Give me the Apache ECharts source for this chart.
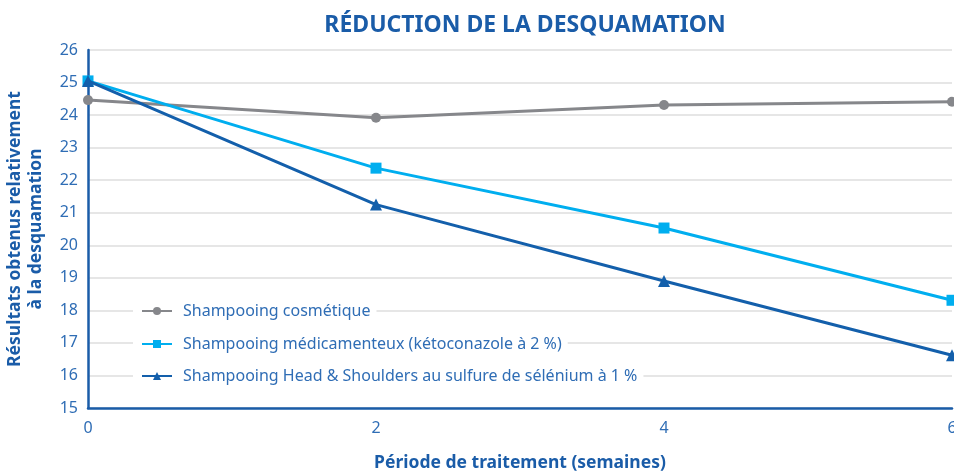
<!DOCTYPE html>
<html>
<head>
<meta charset="utf-8">
<script src="https://cdn.jsdelivr.net/npm/echarts@6/dist/echarts.min.js"></script>
<style>
html,body{margin:0;padding:0;background:#fff;}
#main{width:954px;height:471px;}
</style>
</head>
<body>
<div id="main"></div>
<script>
// semaines
var weeks = [0, 2, 4, 6];
var cosmetique = [24.46, 23.92, 24.31, 24.41];
var ketoconazole = [25.05, 22.37, 20.53, 18.31];
var headShoulders = [25.05, 21.25, 18.9, 16.62];
var seriesNames = [
	'Shampooing cosmétique',
	'Shampooing médicamenteux (kétoconazole à 2 %)',
	'Shampooing Head & Shoulders au sulfure de sélénium à 1 %'
];
var yTicks = [15, 16, 17, 18, 19, 20, 21, 22, 23, 24, 25, 26];

var font = 'Noto Sans';
var labelColor = '#2f6db5';
var darkBlue = '#1a5ca8';

function pairs(vals){
	var out = [];
	for (var i = 0; i < weeks.length; i++) {
		out.push([weeks[i], vals[i]]);
	}
	return out;
}

//légende : une boîte blanche par ligne
function legendRow(name, top){
	return {
		data: [name],
		left: 133,
		top: top,
		orient: 'horizontal',
		backgroundColor: '#fff',
		padding: [3, 6, 3, 8],
		itemWidth: 30,
		itemHeight: 10,
		selectedMode: false,
		textStyle: {
			fontFamily: font,
			fontSize: 16,
			color: labelColor,
			padding: [0, 0, 0, 6]
		}
	};
}

var myChart = echarts.init(document.getElementById('main'), null, {renderer: 'canvas'});
var option = {
	animation: false,
	title: {
		text: 'RÉDUCTION DE LA DESQUAMATION',
		left: 520,
		textAlign: 'center',
		top: 9,
		textStyle: {
			fontFamily: font,
			fontWeight: 'bold',
			fontSize: 23,
			color: darkBlue
		}
	},
	legend: [
		legendRow(seriesNames[0], 300),
		legendRow(seriesNames[1], 333),
		legendRow(seriesNames[2], 365)
	],
	grid: {
		left: 88,
		right: 2,
		top: 50,
		bottom: 63,
		outerBoundsMode: 'none'
	},
	xAxis: {
		type: 'value',
		min: 0,
		max: 6,
		interval: 2,
		name: 'Période de traitement (semaines)',
		nameLocation: 'middle',
		nameGap: 46,
		nameTextStyle: {
			fontFamily: font,
			fontWeight: 'bold',
			fontSize: 17.5,
			color: darkBlue
		},
		axisLine: {lineStyle: {color: darkBlue, width: 2.5}},
		axisTick: {show: false},
		splitLine: {show: false},
		axisLabel: {
			margin: 12,
			fontFamily: font,
			fontSize: 16,
			color: labelColor
		}
	},
	yAxis: {
		type: 'value',
		min: yTicks[0],
		max: yTicks[yTicks.length - 1],
		interval: 1,
		name: 'Résultats obtenus relativement\nà la desquamation',
		nameLocation: 'middle',
		nameGap: 41,
		nameTextStyle: {
			fontFamily: font,
			fontWeight: 'bold',
			fontSize: 17.5,
			lineHeight: 21,
			color: darkBlue
		},
		axisLine: {show: true, lineStyle: {color: darkBlue, width: 2.5}},
		axisTick: {show: false},
		splitLine: {lineStyle: {color: '#dedede', width: 1.5}},
		axisLabel: {
			margin: 10,
			fontFamily: font,
			fontSize: 16,
			color: labelColor
		}
	},
	series: [
		{
			name: seriesNames[0],
			type: 'line',
			data: pairs(cosmetique),
			symbol: 'circle',
			symbolSize: 10,
			lineStyle: {color: '#86878b', width: 3},
			itemStyle: {color: '#86878b'},
			z: 2
		},
		{
			name: seriesNames[1],
			type: 'line',
			data: pairs(ketoconazole),
			symbol: 'rect',
			symbolSize: 11,
			lineStyle: {color: '#00aeef', width: 3},
			itemStyle: {color: '#00aeef'},
			z: 3
		},
		{
			name: seriesNames[2],
			type: 'line',
			data: pairs(headShoulders),
			symbol: 'triangle',
			symbolSize: 12,
			lineStyle: {color: '#135fab', width: 3},
			itemStyle: {color: '#135fab'},
			z: 4
		}
	]
};
myChart.setOption(option);
</script>
</body>
</html>
